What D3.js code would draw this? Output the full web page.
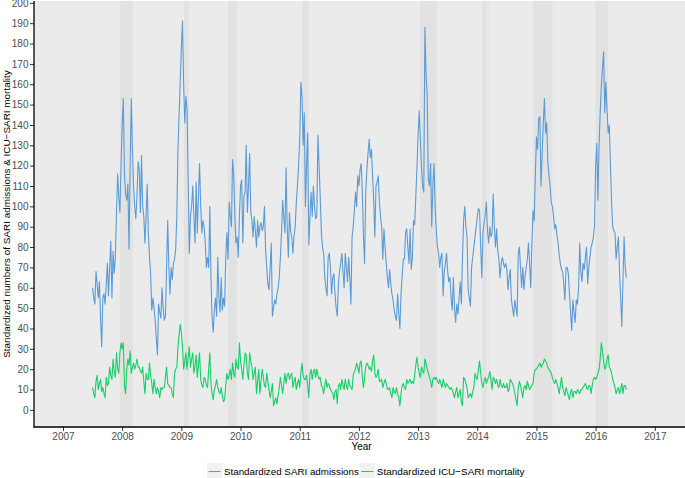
<!DOCTYPE html>
<html>
<head>
<meta charset="utf-8">
<script src="https://cdn.jsdelivr.net/npm/d3@7"></script>
<style>
  html, body { margin: 0; padding: 0; background: #ffffff; }
  svg { display: block; }
  text { font-family: "Liberation Sans", Arial, Helvetica, sans-serif; }
</style>
</head>
<body>
<svg id="chart" width="685" height="478"></svg>
<script>
// ---- data (weekly, starting mid-2007) ----
const startYear = 2007.5;
const weeksPerYear = 52;

const sariAdmissions = [
  60,55,52,68,62,55,63,45,31,55,57,52,62,72,56,70,83,55,78,67,75,97,116,105,97,121,
  140,153,116,106,103,111,79,120,153,128,110,100,94,105,122,118,97,125,100,95,82,95,111,87,75,67,
  49,55,50,44,35,27,52,48,45,60,50,44,46,70,93,70,57,70,64,72,74,79,95,128,145,161,
  178,191,160,141,154,148,112,77,95,100,110,95,82,112,87,105,121,100,87,93,90,82,70,75,70,100,
  65,45,38,49,55,46,75,55,48,65,49,55,51,75,87,74,102,95,90,123,116,95,82,85,75,95,
  110,113,82,105,107,130,97,110,126,97,93,85,95,88,80,93,85,90,92,88,90,100,79,70,62,59,
  70,82,46,50,54,52,57,60,65,75,87,103,95,87,119,90,75,97,88,85,77,85,90,102,110,120,
  133,161,154,130,146,100,120,136,81,95,107,95,110,100,94,95,135,120,105,87,80,77,65,60,56,75,
  77,70,57,65,67,57,50,46,62,68,72,77,68,60,77,70,63,75,65,52,85,90,98,107,100,115,
  110,118,121,107,85,72,107,118,126,133,124,128,115,103,85,110,112,115,102,95,90,74,89,80,72,65,
  60,69,62,57,54,49,46,44,57,48,40,57,66,74,74,87,89,80,72,89,69,75,93,91,105,119,
  135,147,133,119,110,107,188,165,154,113,110,121,90,110,121,100,88,80,77,70,75,77,56,68,72,77,
  68,63,65,55,49,65,50,43,52,47,55,63,52,75,93,100,90,85,59,55,51,70,75,80,85,90,
  95,99,98,80,65,87,92,96,102,88,82,90,85,87,106,90,80,89,78,74,65,72,75,72,70,72,
  69,59,65,69,54,50,46,54,50,46,77,80,70,60,70,59,66,70,74,82,72,60,82,98,93,115,
  134,128,143,144,110,126,141,153,136,141,122,115,110,102,100,95,89,91,86,82,76,72,69,68,62,54,
  70,70,67,57,48,39,54,48,43,54,52,60,82,68,63,72,69,75,80,62,70,75,80,82,85,90,
  120,131,103,130,146,159,168,176,146,161,148,136,140,120,102,90,88,87,74,80,85,67,55,41,63,85,
  70,65
];

const icuMortality = [
  11,8,6,14,17,10,13,15,9,11,8,6,16,12,13,21,17,15,25,19,16,28,20,18,28,33,
  30,33,12,8,20,25,22,29,18,21,23,20,22,25,21,21,19,18,21,14,8,18,15,15,23,17,
  13,8,15,11,8,11,9,6,11,10,11,11,16,21,13,12,11,11,8,6,18,20,21,31,37,42,
  38,31,20,24,28,20,26,31,21,25,28,18,22,27,16,22,28,15,12,11,16,15,12,11,20,28,
  13,8,5,10,12,15,11,9,8,11,7,4,5,12,18,15,17,20,15,23,18,16,25,21,20,33,
  24,20,15,22,28,27,18,15,28,24,21,15,18,21,8,14,20,8,14,20,16,12,11,18,14,10,
  6,9,13,2,4,6,3,7,11,16,12,8,13,18,13,17,18,15,17,18,11,14,16,10,13,15,
  11,18,23,17,15,15,17,12,6,18,20,15,19,20,16,20,17,15,16,12,11,8,12,15,11,13,
  12,10,9,8,5,9,10,3,12,13,10,15,12,10,15,12,10,15,12,11,10,17,19,20,23,21,
  18,23,24,16,11,16,21,23,22,20,21,19,24,27,18,16,17,20,14,14,15,11,13,15,13,10,
  10,11,8,6,11,9,8,11,8,6,2,8,12,13,11,10,15,13,14,15,13,14,13,17,22,26,
  21,18,16,21,19,18,25,23,20,18,16,14,11,15,16,15,16,14,13,15,13,11,15,13,11,13,
  12,11,10,11,10,8,6,9,11,6,8,10,4,2,16,15,13,11,6,7,8,6,9,11,18,16,
  15,20,24,18,13,11,14,16,13,15,16,19,15,10,16,15,13,15,12,11,15,12,11,13,11,11,
  13,9,10,15,14,13,11,8,5,2,11,14,12,9,6,11,12,10,14,12,10,11,12,13,18,20,
  20,21,22,23,21,22,23,25,24,23,21,20,19,18,16,14,13,15,13,11,8,12,16,11,9,7,
  11,9,7,5,9,10,6,9,9,8,10,9,8,10,10,11,12,13,11,10,12,12,8,12,15,16,
  15,16,18,20,25,33,29,24,20,21,25,27,21,20,18,15,13,11,8,10,11,8,10,13,8,12,
  12,10
];

// shaded epidemic periods (decimal years)
const epidemicPeriods = [
  [2007.96, 2008.18], [2009.045, 2009.13], [2009.785, 2009.94], [2011.04, 2011.15],
  [2013.03, 2013.32], [2014.085, 2014.165], [2014.94, 2015.26], [2016.0, 2016.21]
];
const faintPeriods = [[2014.185, 2014.205], [2015.28, 2015.31]];

const yearTicks = [2007, 2008, 2009, 2010, 2011, 2012, 2013, 2014, 2015, 2016, 2017];
const valueTicks = [0,10,20,30,40,50,60,70,80,90,100,110,120,130,140,150,160,170,180,190,200];

const seriesNames = ["Standardized SARI admissions", "Standardized ICU\u2212SARI mortality"];
const seriesColors = ["#5b9bd5", "#16cf68"];

// ---- layout ----
const svg = d3.select("#chart");
const panel = { left: 34, right: 685, top: 1, bottom: 427 };

const x = d3.scaleLinear().domain([2006.51, 2017.51]).range([panel.left, panel.right]);
const y = d3.scaleLinear().domain([-8.4, 200.9]).range([panel.bottom, panel.top]);

// panel background
svg.append("rect")
  .attr("x", panel.left).attr("y", panel.top)
  .attr("width", panel.right - panel.left).attr("height", panel.bottom - panel.top)
  .attr("fill", "#ebebeb");

svg.append("g").selectAll("rect").data(epidemicPeriods).join("rect")
  .attr("x", d => x(d[0])).attr("y", panel.top)
  .attr("width", d => x(d[1]) - x(d[0])).attr("height", panel.bottom - panel.top)
  .attr("fill", "#e2e2e2");
svg.append("g").selectAll("rect").data(faintPeriods).join("rect")
  .attr("x", d => x(d[0])).attr("y", panel.top)
  .attr("width", d => x(d[1]) - x(d[0])).attr("height", panel.bottom - panel.top)
  .attr("fill", "#e6e6e6");

// lines
const line = d3.line()
  .x((d, i) => x(startYear + i / weeksPerYear))
  .y(d => y(d));

[sariAdmissions, icuMortality].forEach((s, k) => {
  svg.append("path").datum(s)
    .attr("d", line)
    .attr("fill", "none")
    .attr("stroke", seriesColors[k])
    .attr("stroke-width", 1.1)
    .attr("stroke-linejoin", "round");
});

// axes
const xAxis = d3.axisBottom(x).tickValues(yearTicks).tickFormat(d3.format("d")).tickSize(4).tickPadding(2);
const yAxis = d3.axisLeft(y).tickValues(valueTicks).tickSize(4).tickPadding(1.5);

const gx = svg.append("g").attr("transform", `translate(0,${panel.bottom})`).call(xAxis);
const gy = svg.append("g").attr("transform", `translate(${panel.left},0)`).call(yAxis);
[gx, gy].forEach(g => {
  g.select(".domain").remove();
  g.selectAll(".tick line").attr("stroke", "#333333").attr("stroke-width", 1);
  g.selectAll(".tick text").attr("fill", "#4d4d4d").style("font-size", "10px")
    .style("font-family", "'Liberation Sans', Arial, sans-serif");
});
// axis lines
svg.append("line").attr("x1", panel.left).attr("x2", panel.left)
  .attr("y1", panel.top).attr("y2", panel.bottom + 0.5)
  .attr("stroke", "#000").attr("stroke-width", 1.3);
svg.append("line").attr("x1", panel.left - 0.5).attr("x2", panel.right)
  .attr("y1", panel.bottom).attr("y2", panel.bottom)
  .attr("stroke", "#000").attr("stroke-width", 1.3);

// helper: size a text so that it spans a given width
function fitText(sel, target) {
  sel.style("font-size", "10px");
  const w = sel.node().getComputedTextLength();
  sel.style("font-size", (10 * target / w).toFixed(2) + "px");
}

// axis titles
svg.append("text")
  .attr("x", (x(2006.51) + x(2017.51)) / 2 + 2).attr("y", 450)
  .attr("text-anchor", "middle").style("font-size", "10px").attr("fill", "#000")
  .text("Year");
const yTitle = svg.append("text")
  .attr("transform", `translate(10,${(panel.top + panel.bottom) / 2}) rotate(-90)`)
  .attr("text-anchor", "middle").attr("fill", "#000")
  .text("Standardized numbers of SARI admissions & ICU\u2212SARI mortality");
fitText(yTitle, 288);

// legend
const legend = svg.append("g").attr("transform", "translate(207,463)");
let offset = 0;
seriesNames.forEach((name, k) => {
  const g = legend.append("g").attr("transform", `translate(${offset},0)`);
  g.append("rect").attr("x", 0).attr("y", 0).attr("width", 15).attr("height", 17).attr("fill", "#f2f2f2");
  g.append("line").attr("x1", 1.5).attr("x2", 13.5).attr("y1", 8.5).attr("y2", 8.5)
    .attr("stroke", seriesColors[k]).attr("stroke-width", 1.1);
  const t = g.append("text").attr("x", 17).attr("y", 12.3).attr("fill", "#000").text(name);
  fitText(t, k === 0 ? 135 : 148);
  offset += 17 + t.node().getComputedTextLength() + 1;
});
</script>
</body>
</html>
